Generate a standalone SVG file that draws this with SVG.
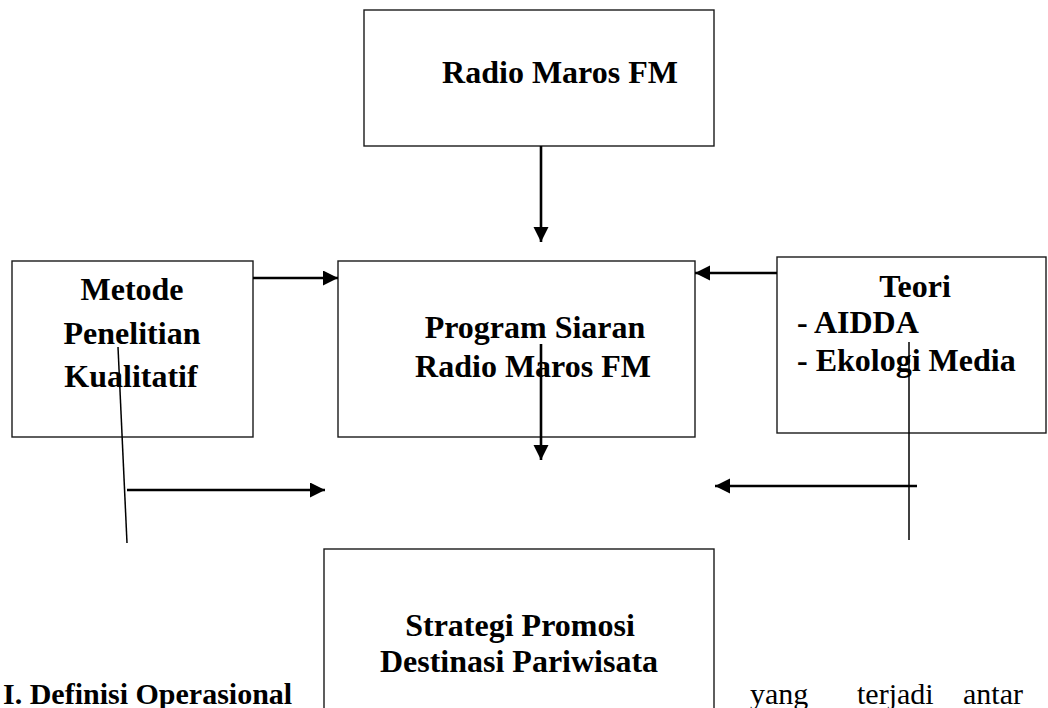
<svg xmlns="http://www.w3.org/2000/svg" width="1048" height="708" viewBox="0 0 1048 708">
<style>
.box{fill:#fff;stroke:#1a1a1a;stroke-width:1.4}
.t{font-family:"Liberation Serif","Times New Roman",serif;font-weight:bold;font-size:32px;fill:#000}
.r{font-family:"Liberation Serif","Times New Roman",serif;font-size:30px;fill:#000}
.b{font-size:30px}
.c{text-anchor:middle}
.arr{stroke:#000;stroke-width:2.6;fill:none;marker-end:url(#ah)}
.thin{stroke:#000;stroke-width:1.5;fill:none}
</style>
<defs>
<marker id="ah" markerUnits="userSpaceOnUse" markerWidth="16" markerHeight="16" refX="15" refY="7.5" orient="auto">
<path d="M0,0 L15,7.5 L0,15 Z" fill="#000"/>
</marker>
</defs>
<rect width="1048" height="708" fill="#fff"/>
<g id="radio">
<rect class="box" x="364" y="10" width="350" height="136"/>
<text class="t c" x="560" y="83">Radio Maros FM</text>
</g>
<g id="program">
<rect class="box" x="338" y="261" width="357" height="176"/>
<text class="t c" x="535" y="338">Program Siaran</text>
<text class="t c" x="533" y="377">Radio Maros FM</text>
</g>
<g id="metode">
<rect class="box" x="12" y="261" width="241" height="176"/>
<text class="t c" x="132" y="300">Metode</text>
<text class="t c" x="132" y="344">Penelitian</text>
<text class="t c" x="131" y="387">Kualitatif</text>
</g>
<g id="teori">
<rect class="box" x="777" y="257" width="269" height="176"/>
<text class="t c" x="915" y="297">Teori</text>
<text class="t" x="797" y="333">- AIDDA</text>
<text class="t" x="797" y="371">- Ekologi Media</text>
</g>
<g id="strategi">
<rect class="box" x="324" y="549" width="390" height="180"/>
<text class="t c" x="520" y="636">Strategi Promosi</text>
<text class="t c" x="519" y="672">Destinasi Pariwisata</text>
</g>
<g id="connectors">
<line class="arr" x1="541" y1="146" x2="541" y2="242"/>
<line class="arr" x1="253" y1="278" x2="338" y2="278"/>
<line class="arr" x1="777" y1="273" x2="695" y2="273"/>
<line class="arr" x1="541" y1="344" x2="541" y2="460"/>
<line class="thin" x1="118" y1="347" x2="127" y2="543"/>
<line class="arr" x1="127" y1="490" x2="325" y2="490"/>
<line class="thin" x1="909" y1="342" x2="909" y2="540"/>
<line class="arr" x1="917" y1="486" x2="715" y2="486"/>
</g>
<g id="bottom-text">
<text class="t b" x="3" y="704">I.  Definisi Operasional</text>
<text class="r" x="750" y="704">yang</text>
<text class="r" x="857" y="704">terjadi</text>
<text class="r" x="963" y="704">antar</text>
</g>
</svg>
